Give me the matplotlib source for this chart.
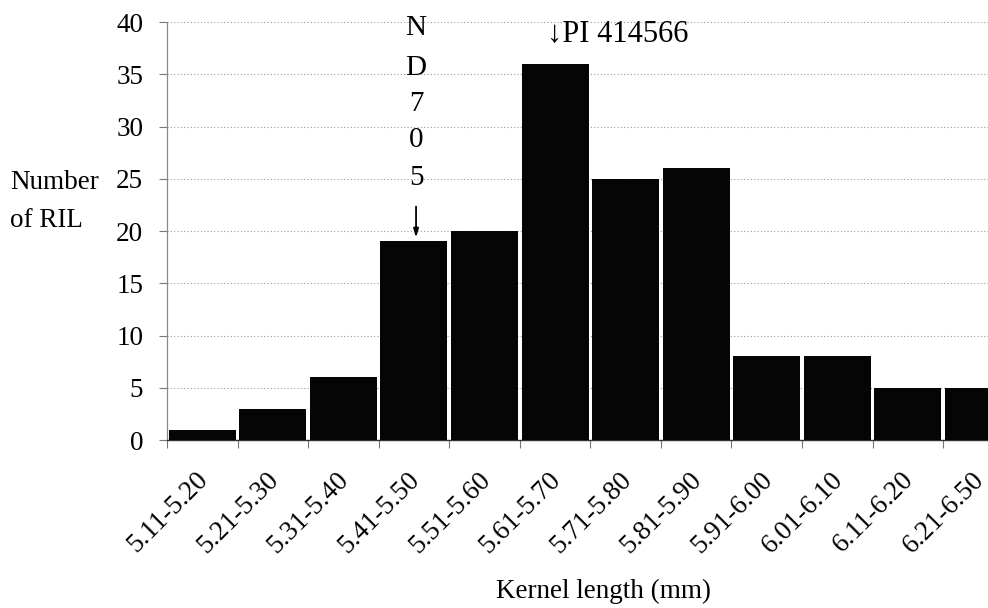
import matplotlib
matplotlib.use("Agg")
import matplotlib.pyplot as plt
from matplotlib.transforms import ScaledTranslation
import numpy as np

categories = ["5.11-5.20", "5.21-5.30", "5.31-5.40", "5.41-5.50", "5.51-5.60",
              "5.61-5.70", "5.71-5.80", "5.81-5.90", "5.91-6.00", "6.01-6.10",
              "6.11-6.20", "6.21-6.50"]
counts = [1, 3, 6, 19, 20, 36, 25, 26, 8, 8, 5, 5]
y_ticks = [0, 5, 10, 15, 20, 25, 30, 35, 40]
nd_label = ["N", "D", "7", "0", "5"]
pi_label = "\u2193PI 414566"

plt.rcParams['font.family'] = ['Liberation Serif', 'DejaVu Serif']
FS = 19.5
FA = 21

fig = plt.figure(figsize=(9.88, 6.08), dpi=100)
ax = fig.add_axes([0.169, 0.2763, 0.857, 0.6875])

x = np.arange(len(categories))
ax.bar(x, counts, width=0.95, color="#050505", edgecolor="none", zorder=3)

ax.set_xlim(-0.5, len(categories) - 0.5)
ax.set_ylim(0, 40)
ax.set_yticks(y_ticks)
ax.set_yticklabels([str(v) for v in y_ticks], fontsize=FS)
for lab in ax.get_yticklabels():
    lab.set_transform(lab.get_transform() + ScaledTranslation(0, -2 / 100, fig.dpi_scale_trans))
ax.yaxis.grid(True, color="#9a9a9a", linestyle=(0, (1, 2)), linewidth=0.8, zorder=0)
ax.tick_params(axis='y', length=6, width=0.8, color="#777777", pad=11)

ax.set_xticks(x)
ax.set_xticklabels(categories, fontsize=FS, rotation=45, ha='right', va='center',
                   rotation_mode='anchor')
ax.tick_params(axis='x', which='major', length=0, pad=26)
ax.set_xticks(np.arange(-0.5, len(categories) + 0.5, 1), minor=True)
ax.tick_params(axis='x', which='minor', length=6, width=0.8, color="#777777")
offs = ScaledTranslation(2 / 100, 0, fig.dpi_scale_trans)
for lab in ax.get_xticklabels():
    lab.set_transform(lab.get_transform() + offs)

for s in ["top", "right"]:
    ax.spines[s].set_visible(False)
ax.spines["left"].set_color("#888888")
ax.spines["left"].set_linestyle((0, (1, 1)))
ax.spines["left"].set_linewidth(0.9)
ax.spines["bottom"].set_color("#333333")
ax.spines["bottom"].set_linewidth(1.0)

ax.set_xlabel("Kernel length (mm)", fontsize=FS)
ax.xaxis.set_label_coords(0.516, -0.333)

fig.text(0.010, 0.700, "Number", fontsize=FS, ha='left', va='center')
fig.text(0.010, 0.638, "of RIL", fontsize=FS, ha='left', va='center')

# ND705 annotation (vertical letters over bar 4)
nd_y = [39.4, 35.6, 32.2, 28.7, 25.1]
for ch, yy in zip(nd_label, nd_y):
    ax.text(3.03, yy, ch, fontsize=FA, ha='center', va='center', zorder=5, clip_on=False)
ax.annotate("", xy=(3.03, 19.1), xytext=(3.03, 22.6),
            arrowprops=dict(arrowstyle='-|>,head_length=0.5,head_width=0.15',
                            color='black', lw=1.3), zorder=5)

ax.text(4.89, 38.8, pi_label, fontsize=22, ha='left', va='center', zorder=5, clip_on=False)

fig.savefig("out.png", dpi=100, facecolor="white")
